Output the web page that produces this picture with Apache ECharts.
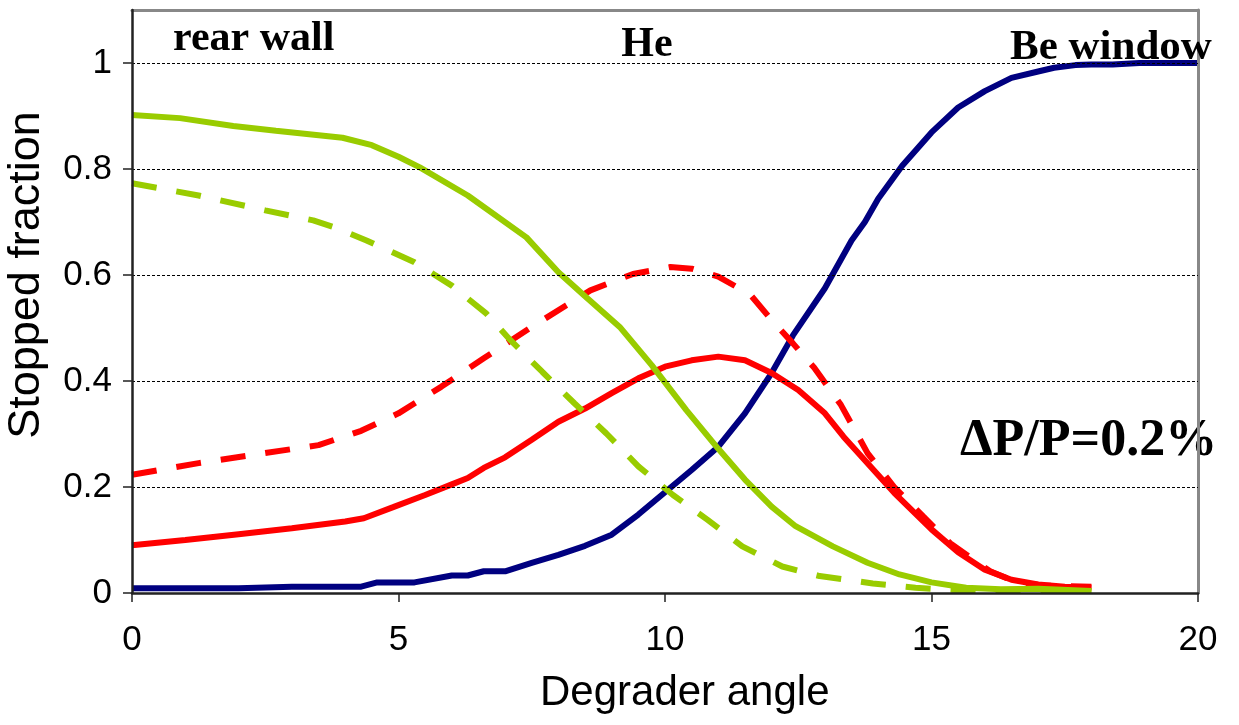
<!DOCTYPE html>
<html>
<head>
<meta charset="utf-8">
<title>Stopped fraction vs degrader angle</title>
<script src="https://cdn.jsdelivr.net/npm/echarts@6/dist/echarts.min.js"></script>
<style>
  html, body { margin: 0; padding: 0; background: #fff; }
  #chart { width: 1239px; height: 725px; }
</style>
</head>
<body>
<div id="chart"></div>
<script>
// Stopped fraction as a function of degrader angle, per stopping location.
// Each series is a list of [angle, fraction] pairs.
const beWindow = [
  [0, 0.009], [1, 0.009], [2, 0.009], [3, 0.012], [4.3, 0.012], [4.6, 0.02],
  [5.3, 0.02], [6, 0.033], [6.3, 0.033], [6.6, 0.041], [7, 0.041], [7.5, 0.057],
  [8, 0.072], [8.5, 0.089], [9, 0.11], [9.5, 0.148], [10, 0.19], [10.5, 0.232],
  [11, 0.276], [11.5, 0.339], [12, 0.415], [12.4, 0.486], [13, 0.575], [13.5, 0.665],
  [13.75, 0.70], [14, 0.744], [14.45, 0.806], [15, 0.869], [15.5, 0.916], [16, 0.947],
  [16.5, 0.972], [17, 0.984], [17.3, 0.991], [17.7, 0.996], [18, 0.997], [18.4, 0.997],
  [18.9, 1.0], [20, 1.0]
];
const heSolid = [
  [0, 0.09], [1, 0.1], [2, 0.111], [3, 0.122], [4, 0.135], [4.35, 0.141], [4.9, 0.162],
  [5.5, 0.185], [6, 0.205], [6.3, 0.217], [6.6, 0.236], [7, 0.256], [7.5, 0.289],
  [8, 0.323], [8.5, 0.348], [9, 0.377], [9.5, 0.405], [10, 0.427], [10.5, 0.439],
  [11, 0.446], [11.5, 0.439], [12, 0.415], [12.5, 0.383], [13, 0.339], [13.35, 0.295],
  [13.8, 0.245], [14.3, 0.189], [15, 0.12], [15.5, 0.077], [16, 0.044], [16.5, 0.025],
  [17, 0.016], [17.5, 0.012], [18, 0.01]
];
const heDashed = [
  [0, 0.223], [1.25, 0.245], [2.5, 0.264], [3.5, 0.279], [4.3, 0.306], [5, 0.339],
  [5.8, 0.389], [6.6, 0.443], [7.5, 0.502], [8.15, 0.543], [8.6, 0.571], [9.4, 0.602],
  [10.1, 0.615], [10.5, 0.612], [11, 0.597], [11.6, 0.563], [12, 0.515], [12.4, 0.471],
  [12.8, 0.425], [13.3, 0.355], [13.8, 0.264], [14.3, 0.2], [14.85, 0.144], [15.35, 0.094],
  [16.1, 0.041], [16.6, 0.02], [17.1, 0.014], [18, 0.012]
];
const rearWallSolid = [
  [0, 0.902], [0.9, 0.896], [1.9, 0.881], [2.7, 0.872], [3.95, 0.859], [4.5, 0.845],
  [5, 0.823], [5.4, 0.803], [6.3, 0.75], [7.4, 0.671], [8, 0.605], [8.5, 0.56],
  [9.15, 0.502], [9.75, 0.43], [10.4, 0.345], [11, 0.272], [11.5, 0.214], [12, 0.163],
  [12.45, 0.126], [13.15, 0.088], [13.8, 0.057], [14.4, 0.035], [15, 0.02], [15.65, 0.01],
  [16.3, 0.007], [17, 0.008], [18, 0.004]
];
const rearWallDashed = [
  [0, 0.773], [1.25, 0.75], [2.5, 0.722], [3.4, 0.703], [3.8, 0.69], [4.4, 0.665],
  [5.3, 0.624], [6, 0.58], [6.65, 0.527], [7.1, 0.477], [7.7, 0.417], [8.3, 0.358],
  [8.9, 0.301], [9.5, 0.239], [10.15, 0.185], [10.8, 0.138], [11.45, 0.088], [12.2, 0.05],
  [12.9, 0.032], [13.9, 0.018], [14.7, 0.01], [15.5, 0.005], [16.5, 0.004], [18, 0.004]
];
const yTicks = [0, 0.2, 0.4, 0.6, 0.8, 1];

const GREEN = '#99CC00', RED = '#FF0000', NAVY = '#000080';
const DASH = [25, 20];

function line(name, data, color, dashed) {
  return {
    name: name,
    type: 'line',
    data: data,
    symbol: 'none',
    smooth: false,
    lineStyle: { color: color, width: 6, type: dashed ? DASH : 'solid', cap: 'butt' },
    silent: true,
    z: 3
  };
}

const chart = echarts.init(document.getElementById('chart'), null, { renderer: 'canvas' });
chart.setOption({
  animation: false,
  backgroundColor: '#fff',
  grid: { left: 132, right: 41, top: 10, bottom: 132, show: false },
  xAxis: [{
    type: 'value', min: 0, max: 20, interval: 5, z: 6,
    axisLine: { onZero: false, lineStyle: { color: '#222', width: 2.5 } },
    axisTick: { show: true, length: 9, inside: false, lineStyle: { color: '#222', width: 1.5 } },
    axisLabel: { margin: 30, fontFamily: 'Liberation Sans, Arial', fontSize: 35, color: '#000' },
    splitLine: { show: false }
  }, {
    // upper frame edge
    type: 'value', min: 0, max: 20, position: 'top', z: 5,
    axisLine: { show: true, onZero: false, lineStyle: { color: '#888', width: 3 } },
    axisTick: { show: false }, axisLabel: { show: false }, splitLine: { show: false }
  }],
  yAxis: [{
    type: 'value', min: 0, max: 1.1, interval: 0.2, z: 6,
    axisLine: { onZero: false, lineStyle: { color: '#222', width: 2.5 } },
    axisTick: { show: true, length: 9, customValues: yTicks, lineStyle: { color: '#222', width: 1.5 } },
    axisLabel: { margin: 20, fontFamily: 'Liberation Sans, Arial', fontSize: 35, color: '#000',
                 customValues: yTicks },
    splitLine: { show: true, showMinLine: false,
                 lineStyle: { color: '#000', width: 1, type: [3, 2] } }
  }, {
    // right frame edge
    type: 'value', min: 0, max: 1.1, position: 'right', z: 5,
    axisLine: { show: true, onZero: false, lineStyle: { color: '#888', width: 3 } },
    axisTick: { show: false }, axisLabel: { show: false }, splitLine: { show: false }
  }],
  series: [
    line('Be window', beWindow, NAVY, false),
    line('He', heSolid, RED, false),
    line('He (dashed)', heDashed, RED, true),
    line('rear wall', rearWallSolid, GREEN, false),
    line('rear wall (dashed)', rearWallDashed, GREEN, true)
  ],
  graphic: [
    { type: 'text', left: 540, top: 672,
      style: { text: 'Degrader angle', fontFamily: 'Liberation Sans, Arial', fontSize: 42, fill: '#000' } },
    { type: 'text', x: 27, y: 275, rotation: Math.PI / 2,
      style: { text: 'Stopped fraction', fontFamily: 'Liberation Sans, Arial', fontSize: 45, fill: '#000',
               align: 'center', verticalAlign: 'middle' } },
    { type: 'text', x: 173, y: 39,
      style: { text: 'rear wall', fontFamily: 'Liberation Serif, Times New Roman', fontWeight: 'bold',
               fontSize: 42, fill: '#000', align: 'left', verticalAlign: 'middle' } },
    { type: 'text', x: 647, y: 45,
      style: { text: 'He', fontFamily: 'Liberation Serif, Times New Roman', fontWeight: 'bold',
               fontSize: 42, fill: '#000', align: 'center', verticalAlign: 'middle' } },
    { type: 'text', x: 1010, y: 48, z: 10,
      style: { text: 'Be window', fontFamily: 'Liberation Serif, Times New Roman', fontWeight: 'bold',
               fontSize: 43, fill: '#000', align: 'left', verticalAlign: 'middle' } },
    { type: 'text', x: 960, y: 442,
      style: { text: 'ΔP/P=0.2%', fontFamily: 'Liberation Serif, Times New Roman', fontWeight: 'bold',
               fontSize: 52, fill: '#000', align: 'left', verticalAlign: 'middle' } }
  ]
});
</script>
</body>
</html>
